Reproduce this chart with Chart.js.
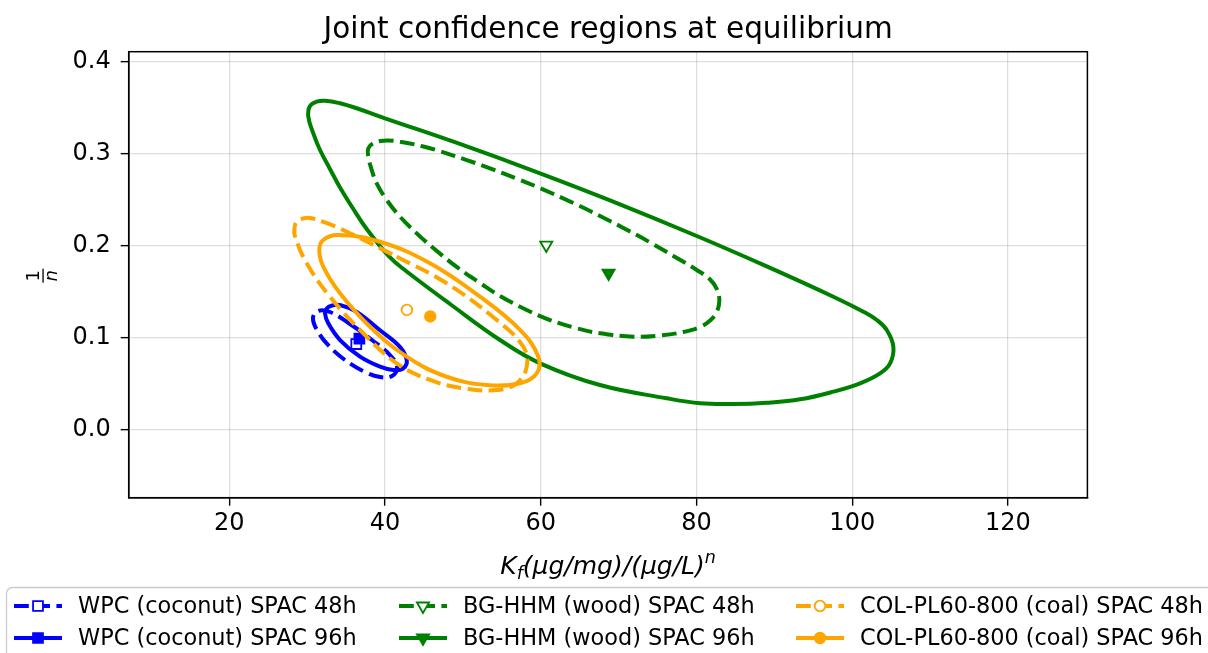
<!DOCTYPE html>
<html><head><meta charset="utf-8">
<script src="https://cdn.jsdelivr.net/npm/chart.js@4.4.0/dist/chart.umd.min.js"></script>
<style>html,body{margin:0;padding:0;background:#fff;}#wrap{width:1208px;height:653px;}</style>
</head><body><div id="wrap"><canvas id="c" width="1208" height="653" style="width:1208px;height:653px"></canvas></div>
<script>
// ---------- data ----------
const xTicks = [20, 40, 60, 80, 100, 120];
const yTicks = [0.0, 0.1, 0.2, 0.3, 0.4];
const seriesLabels = [
  'WPC (coconut) SPAC 48h', 'WPC (coconut) SPAC 96h',
  'BG-HHM (wood) SPAC 48h', 'BG-HHM (wood) SPAC 96h',
  'COL-PL60-800 (coal) SPAC 48h', 'COL-PL60-800 (coal) SPAC 96h'
];
// boundary points of the joint confidence regions [Kf, 1/n] (closed: first == last)
const wpc48Region = [[35.49,0.1148],[38.32,0.0974],[40.63,0.0811],[41.53,0.0681],[40.89,0.0583],[39.35,0.0572],[37.42,0.0626],[34.85,0.0757],[32.67,0.0920],[31.25,0.1083],[30.74,0.1213],[31.38,0.1289],[32.92,0.1278],[35.49,0.1148]];
const wpc96Region = [[36.35,0.1280],[39.35,0.1080],[41.90,0.0900],[42.78,0.0757],[42.34,0.0667],[41.05,0.0648],[39.35,0.0684],[36.78,0.0793],[34.21,0.0974],[32.70,0.1155],[32.28,0.1264],[32.50,0.1315],[33.10,0.1346],[34.30,0.1352],[36.35,0.1280]];
const bg48Region = [[41.91,0.3127],[44.91,0.3075],[47.05,0.3023],[50.48,0.2928],[53.48,0.2838],[56.90,0.2727],[59.90,0.2623],[64.18,0.2461],[67.60,0.2321],[71.03,0.2172],[74.03,0.2034],[77.02,0.1887],[80.03,0.1734],[81.74,0.1631],[82.60,0.1528],[82.93,0.1408],[82.60,0.1278],[81.74,0.1186],[80.45,0.1115],[78.31,0.1061],[75.31,0.1023],[71.88,0.1010],[67.60,0.1047],[64.61,0.1101],[61.18,0.1191],[58.19,0.1300],[54.76,0.1452],[52.19,0.1593],[49.20,0.1767],[46.19,0.1973],[44.06,0.2132],[41.91,0.2313],[40.21,0.2494],[38.92,0.2675],[38.28,0.2820],[37.84,0.2964],[37.84,0.3055],[38.48,0.3110],[39.77,0.3138],[41.91,0.3127]];
const bg96Region = [[32.28,0.3572],[34.21,0.3544],[36.35,0.3490],[39.99,0.3381],[49.24,0.3113],[59.90,0.2784],[68.89,0.2490],[80.03,0.2103],[89.02,0.1773],[97.57,0.1444],[101.43,0.1281],[103.15,0.1191],[104.43,0.1083],[105.28,0.0901],[104.86,0.0721],[103.57,0.0612],[101.00,0.0504],[97.57,0.0413],[93.30,0.0330],[89.02,0.0293],[84.73,0.0279],[80.45,0.0287],[76.17,0.0341],[67.60,0.0485],[59.90,0.0721],[54.76,0.0974],[48.34,0.1365],[42.77,0.1718],[40.63,0.1870],[37.64,0.2179],[35.92,0.2396],[34.21,0.2630],[32.92,0.2831],[31.64,0.3037],[30.78,0.3218],[30.14,0.3398],[30.35,0.3514],[31.21,0.3561],[32.28,0.3572]];
const col48Region = [[41.49,0.1878],[47.91,0.1590],[54.34,0.1191],[57.75,0.0901],[58.19,0.0684],[56.90,0.0504],[54.34,0.0431],[50.04,0.0450],[45.77,0.0540],[41.49,0.0721],[37.20,0.1047],[32.92,0.1444],[29.93,0.1807],[28.43,0.2096],[28.36,0.2190],[28.68,0.2261],[29.45,0.2293],[30.35,0.2299],[32.28,0.2250],[35.07,0.2150],[41.49,0.1878]];
const col96Region = [[45.77,0.1807],[52.19,0.1444],[57.33,0.1083],[59.68,0.0793],[59.47,0.0612],[57.33,0.0504],[53.05,0.0485],[47.91,0.0575],[42.77,0.0793],[38.06,0.1118],[34.21,0.1481],[32.06,0.177],[31.55,0.1951],[32.06,0.206],[33.99,0.2114],[39.35,0.2041],[45.77,0.1807]];
// best estimates (markers)
const wpc48Center = [36.3, 0.093];
const wpc96Center = [36.7, 0.099];
const bg48Center = [60.7, 0.2005];
const bg96Center = [68.7, 0.170];
const col48Center = [42.8, 0.130];
const col96Center = [45.8, 0.123];

// ---------- styles ----------
const FONT = "'DejaVu Sans', sans-serif";
const BLUE = '#0000ff', GREEN = '#008000', ORANGE = '#ffa500';
const LW = 4;
const DASH = [14.8, 6.4];
const series = [
  {label: seriesLabels[0], region: wpc48Region, center: wpc48Center, color: BLUE, dashed: true, marker: 'rect', filled: false},
  {label: seriesLabels[1], region: wpc96Region, center: wpc96Center, color: BLUE, dashed: false, marker: 'rect', filled: true},
  {label: seriesLabels[2], region: bg48Region, center: bg48Center, color: GREEN, dashed: true, marker: 'tri', filled: false},
  {label: seriesLabels[3], region: bg96Region, center: bg96Center, color: GREEN, dashed: false, marker: 'tri', filled: true},
  {label: seriesLabels[4], region: col48Region, center: col48Center, color: ORANGE, dashed: true, marker: 'circle', filled: false},
  {label: seriesLabels[5], region: col96Region, center: col96Center, color: ORANGE, dashed: false, marker: 'circle', filled: true}
];
const markerRadius = {rect: 7, tri: 7, circle: 5.3};

// closed loop: wrap one point on each side so the spline is smooth at the seam,
// and hide the two wrapping segments
function loopData(region) {
  const m = region.length - 1;
  const pts = [region[m - 1]].concat(region, [region[1]]);
  return pts.map(p => ({x: p[0], y: p[1]}));
}

const datasets = [];
series.forEach(s => {
  const data = loopData(s.region);
  const n = data.length;
  datasets.push({
    label: s.label,
    data,
    showLine: true, tension: 0.4, pointRadius: 0, pointHoverRadius: 0,
    borderColor: s.color, borderWidth: LW, borderDash: s.dashed ? DASH : [],
    fill: false, borderCapStyle: 'butt', borderJoinStyle: 'round',
    segment: {
      borderColor: c => (c.p0DataIndex === 0 || c.p1DataIndex === n - 1) ? 'rgba(0,0,0,0)' : undefined
    }
  });
  datasets.push({
    label: s.label + ' marker',
    data: [{x: s.center[0], y: s.center[1]}],
    showLine: false,
    pointStyle: s.marker === 'tri' ? 'triangle' : s.marker,
    rotation: s.marker === 'tri' ? 180 : 0,
    pointRadius: markerRadius[s.marker],
    pointBackgroundColor: s.filled ? s.color : '#ffffff',
    pointBorderColor: s.color, pointBorderWidth: 1.8
  });
});
datasets.forEach((d, i) => d.order = datasets.length - i);

const AREA = {left: 128.7, top: 51.7, right: 1087.4, bottom: 497.7};

function drawMarker(ctx, kind, x, y, r, color, filled) {
  ctx.save();
  ctx.beginPath();
  if (kind === 'rect') {
    const h = Math.SQRT1_2 * r;
    ctx.rect(x - h, y - h, 2 * h, 2 * h);
  } else if (kind === 'tri') {
    const s = Math.sin(Math.PI / 3) * r;
    ctx.moveTo(x, y + r); ctx.lineTo(x - s, y - r / 2); ctx.lineTo(x + s, y - r / 2); ctx.closePath();
  } else {
    ctx.arc(x, y, r, 0, Math.PI * 2);
  }
  ctx.fillStyle = filled ? color : '#ffffff';
  ctx.fill();
  ctx.lineWidth = 1.8; ctx.strokeStyle = color; ctx.setLineDash([]);
  ctx.stroke();
  ctx.restore();
}

const decor = {
  id: 'decor',
  afterDraw(chart) {
    const ctx = chart.ctx;
    const a = chart.chartArea;
    ctx.save();
    // frame
    ctx.strokeStyle = '#000'; ctx.lineWidth = 1.5; ctx.setLineDash([]);
    ctx.strokeRect(a.left, a.top, a.right - a.left, a.bottom - a.top);
    // title
    ctx.fillStyle = '#000';
    ctx.font = "29.5px " + FONT;
    ctx.textAlign = 'center'; ctx.textBaseline = 'alphabetic';
    ctx.fillText('Joint confidence regions at equilibrium', (a.left + a.right) / 2, 37.5);
    // x label: K_f(μg/mg)/(μg/L)^n
    const big = "italic 25px " + FONT, small = "italic 17.5px " + FONT;
    const parts = [
      {t: 'K', f: big, dy: 0},
      {t: 'f', f: small, dy: 5},
      {t: '(μg/mg)/(μg/L)', f: big, dy: 0},
      {t: 'n', f: small, dy: -11}
    ];
    let w = 0;
    parts.forEach(p => { ctx.font = p.f; p.w = ctx.measureText(p.t).width; w += p.w; });
    let x = (a.left + a.right) / 2 - w / 2;
    const base = 574;
    ctx.textAlign = 'left';
    parts.forEach(p => { ctx.font = p.f; ctx.fillText(p.t, x, base + p.dy); x += p.w; });
    // y label: fraction 1/n rotated
    ctx.save();
    ctx.translate(43, (a.top + a.bottom) / 2 + 1);
    ctx.rotate(-Math.PI / 2);
    ctx.textAlign = 'center';
    ctx.font = "18px " + FONT;
    ctx.fillText('1', 0, -4);
    ctx.fillRect(-7, -0.6, 14, 1.3);
    ctx.font = "italic 18px " + FONT;
    ctx.fillText('n', 0, 14);
    ctx.restore();
    // legend
    ctx.beginPath();
    ctx.roundRect(6.5, 587.5, 1215, 90, 6);
    ctx.fillStyle = 'rgba(255,255,255,0.8)'; ctx.fill();
    ctx.strokeStyle = '#cccccc'; ctx.lineWidth = 1.3; ctx.stroke();
    const colX = [14, 399, 796], textX = [78, 463, 860], rowY = [606, 638];
    series.forEach((s, i) => {
      const c = Math.floor(i / 2), r = i % 2;
      const hx = colX[c], yy = rowY[r];
      ctx.beginPath();
      ctx.setLineDash(s.dashed ? DASH : []);
      ctx.lineCap = 'butt';
      ctx.strokeStyle = s.color; ctx.lineWidth = LW;
      ctx.moveTo(hx, yy); ctx.lineTo(hx + 48, yy); ctx.stroke();
      ctx.setLineDash([]);
      drawMarker(ctx, s.marker, hx + 24, yy, markerRadius[s.marker], s.color, s.filled);
      ctx.fillStyle = '#000';
      ctx.font = "22.4px " + FONT;
      ctx.textAlign = 'left'; ctx.textBaseline = 'middle';
      ctx.fillText(s.label, textX[c], yy + 1);
    });
    ctx.restore();
  }
};

new Chart(document.getElementById('c'), {
  type: 'scatter',
  data: {datasets},
  options: {
    responsive: false, animation: false, devicePixelRatio: 1,
    layout: {padding: {left: 0, top: AREA.top, right: 1208 - AREA.right, bottom: 0}},
    plugins: {legend: {display: false}, title: {display: false}, tooltip: {enabled: false}},
    events: [],
    scales: {
      x: {
        type: 'linear', min: 7.07, max: 130.2,
        afterBuildTicks: ax => { ax.ticks = xTicks.map(v => ({value: v})); },
        afterFit: ax => { ax.height = 653 - AREA.bottom; },
        ticks: {font: {family: FONT, size: 24}, color: '#000', padding: 4, maxRotation: 0, autoSkip: false},
        grid: {color: 'rgba(0,0,0,0.13)', lineWidth: 1.3, tickColor: '#000', tickLength: 8, tickWidth: 1.4, drawTicks: true},
        border: {display: true, color: '#000', width: 1.5}
      },
      y: {
        type: 'linear', min: -0.0738, max: 0.4104,
        afterBuildTicks: ax => { ax.ticks = yTicks.map(v => ({value: v})); },
        afterFit: ax => { ax.width = AREA.left; },
        ticks: {font: {family: FONT, size: 24}, color: '#000', padding: 10, autoSkip: false,
                callback: v => v.toFixed(1)},
        grid: {color: 'rgba(0,0,0,0.13)', lineWidth: 1.3, tickColor: '#000', tickLength: 8, tickWidth: 1.4, drawTicks: true},
        border: {display: true, color: '#000', width: 1.5}
      }
    }
  },
  plugins: [decor]
});
</script></body></html>
